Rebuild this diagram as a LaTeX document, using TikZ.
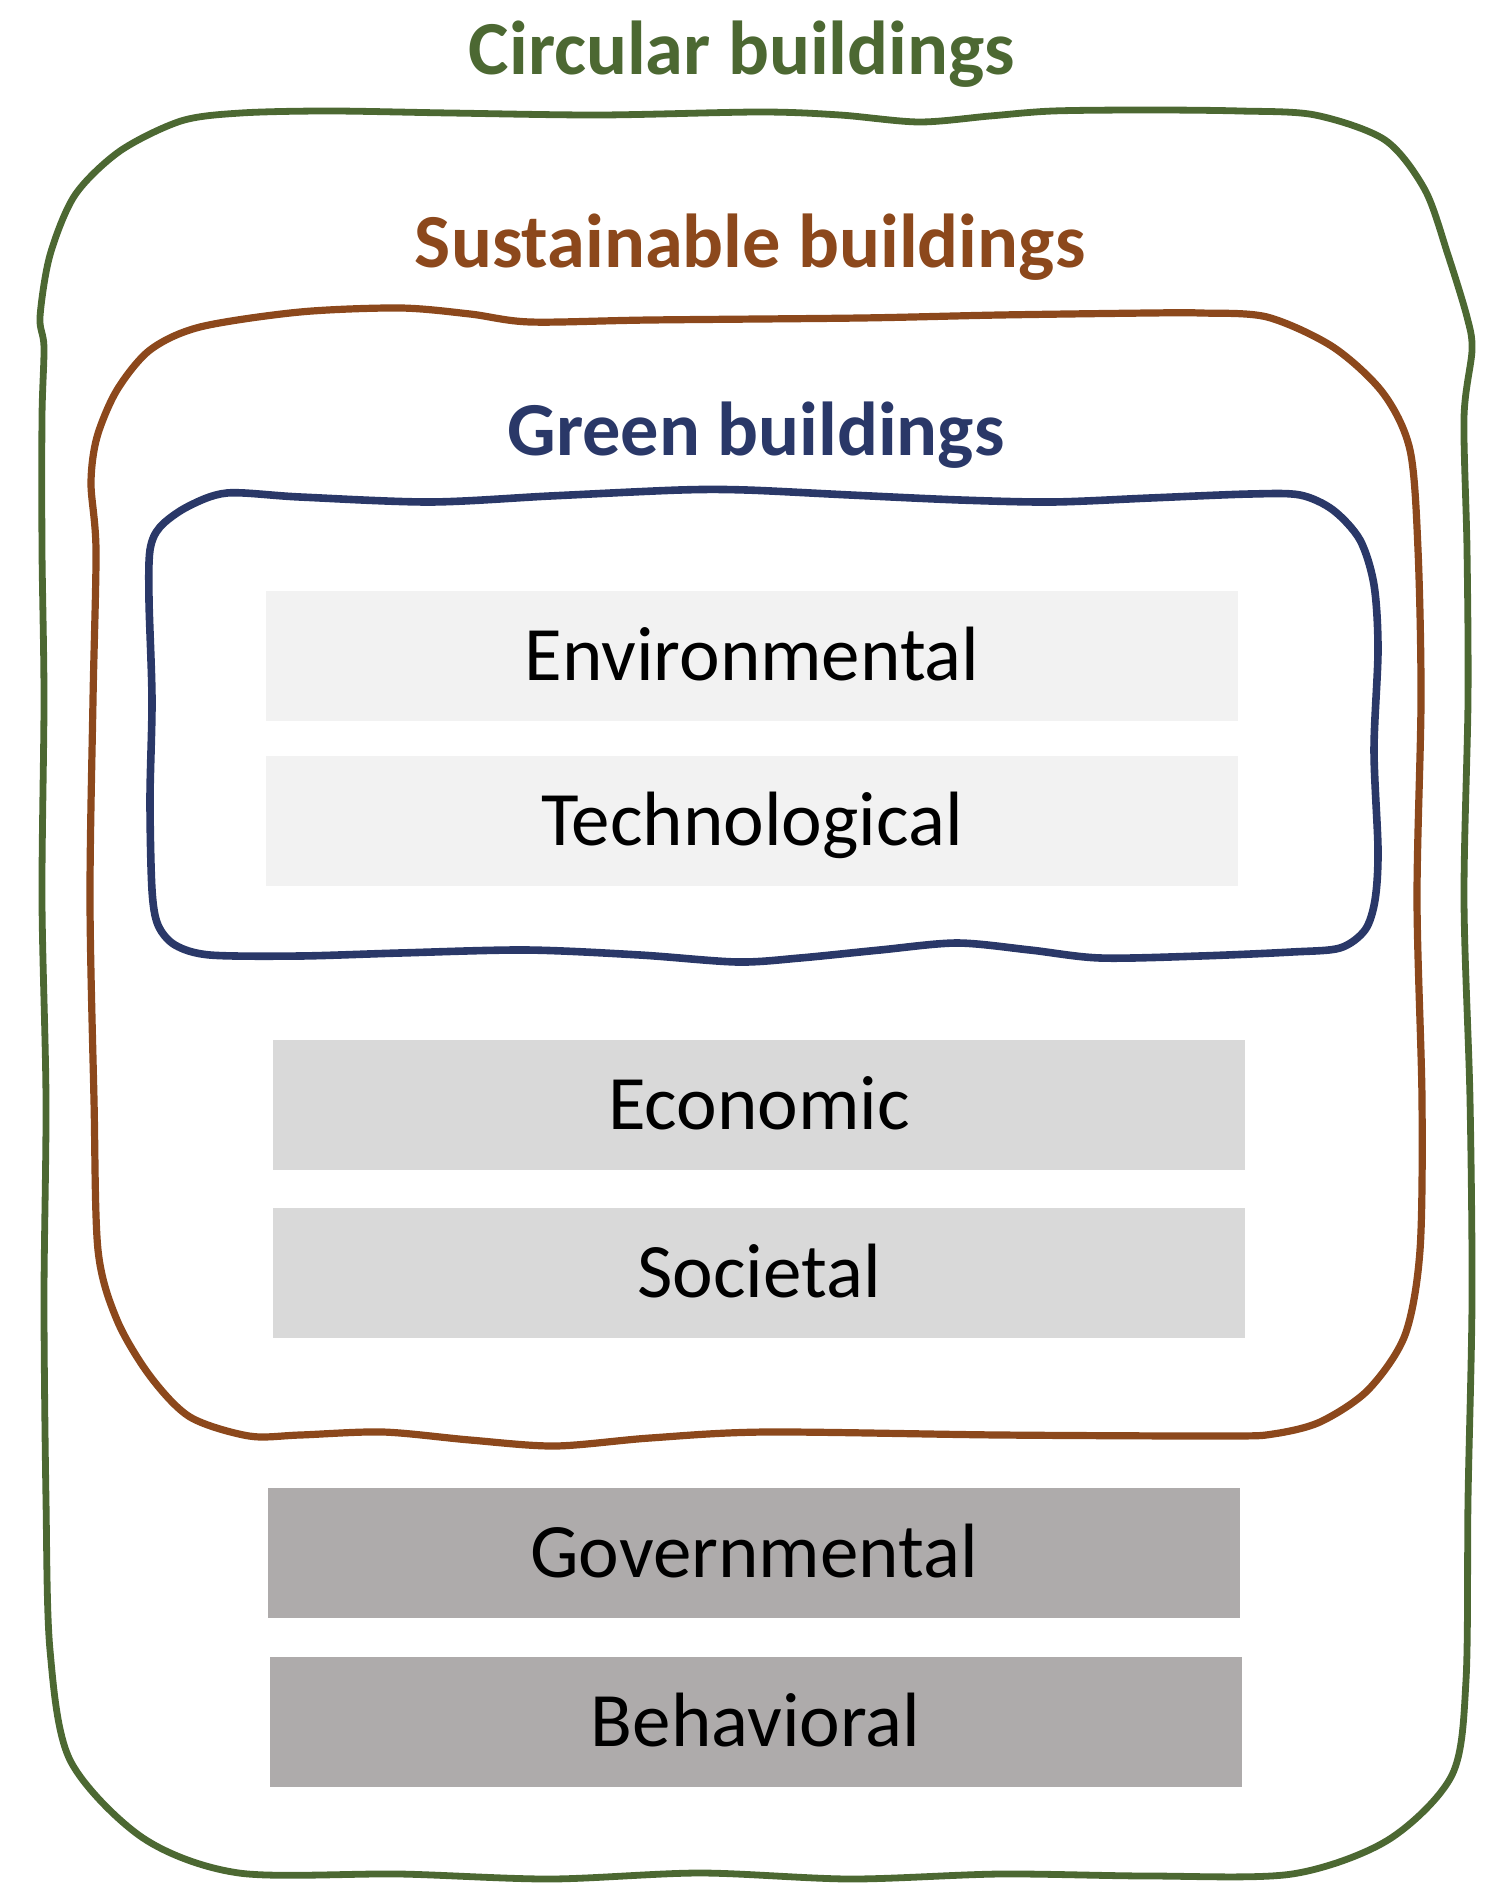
\documentclass[tikz,border=0pt]{standalone}
\usepackage{fontspec}
\setmainfont{Carlito}
\definecolor{cgreen}{RGB}{76,104,50}
\definecolor{cbrown}{RGB}{140,72,28}
\definecolor{cblue}{RGB}{42,56,104}
\definecolor{gA}{HTML}{F2F2F2}
\definecolor{gB}{HTML}{D9D9D9}
\definecolor{gC}{HTML}{AEABAB}
\tikzset{
  title/.style={font=\fontsize{38.2}{46}\selectfont\bfseries, anchor=base, inner sep=0pt},
  bar/.style={rectangle, inner sep=0pt, minimum width=486pt, minimum height=65pt,
    font=\fontsize{38.5}{46}\selectfont, text height=24.8pt, text depth=0pt, text=black},
  outline/.style={line width=#1, line join=round},
}
\begin{document}
\begin{tikzpicture}[x=0.5pt,y=-0.5pt]
\useasboundingbox (0,0) rectangle (1500,1899);
% outer green
\draw[cgreen, outline=3.4pt] plot[smooth cycle, tension=0.5] coordinates {
 (241,113) (330,111) (450,113) (600,115) (760,112) (840,115) (919,122) (990,116) (1053,111) (1150,110) (1240,111)
 (1315,115) (1385,140) (1425,190) (1448,255) (1467,317) (1472,350)
 (1464,417) (1467,550) (1468,700) (1464,900) (1470,1100) (1472,1300) (1468,1500) (1466,1680)
 (1452,1775) (1388,1840) (1292,1874)
 (1150,1876) (1000,1874) (850,1879) (700,1873) (550,1879) (400,1874) (239,1873)
 (143,1838) (70,1760) (50,1650)
 (46,1500) (44,1300) (46,1100) (42,900) (44,700) (42,550) (42,417) (44,347) (40,317)
 (50,255) (75,195) (120,151) (181,121)};
% brown
\draw[cbrown, outline=3.6pt] plot[smooth cycle, tension=0.5] coordinates {
 (300,312) (400,308) (470,314) (530,322) (650,320) (861,318) (1000,315) (1150,313) (1200,313) (1267,317)
 (1333,347) (1383,393) (1410,450) (1418,550)
 (1421,700) (1417,900) (1422,1100) (1420,1250)
 (1405,1335) (1368,1390) (1320,1422) (1273,1434)
 (1225,1436) (1000,1435) (766,1432) (650,1438) (555,1446) (470,1440) (383,1432) (300,1435) (249,1436)
 (190,1417) (150,1376) (117,1320) (98,1250)
 (94,1100) (90,900) (93,700) (96,550)
 (91,483) (97,437) (117,390) (150,350) (200,327)};
% blue
\draw[cblue, outline=3.8pt] plot[smooth cycle, tension=0.5] coordinates {
 (227,493) (300,497) (430,502) (550,496) (680,490) (746,490) (850,495) (960,500) (1053,502) (1150,498) (1250,494) (1300,495)
 (1333,510) (1360,540) (1374,585)
 (1378,650) (1374,750) (1378,850) (1375,900)
 (1365,930) (1340,948) (1292,952)
 (1200,956) (1100,958) (1030,950) (957,943) (880,950) (800,958) (737,962) (640,955) (526,950) (400,953) (300,956) (210,955)
 (175,945) (158,925) (152,890)
 (150,800) (152,700) (149,600) (150,550)
 (160,527) (187,507)};
% titles
\node[title, text=cgreen] (tcirc) at (742,75) {Circular buildings};
\node[title, text=cbrown] (tsust) at (750,268) {Sustainable buildings};
\node[title, text=cblue] (tgreen) at (756,455) {Green buildings};
% bars
\node[bar, fill=gA] (env) at (752,655.5) {Environmental};
\node[bar, fill=gA] (tech) at (752,820.5) {Technological};
\node[bar, fill=gB] (econ) at (759,1105) {Economic};
\node[bar, fill=gB] (soc) at (759,1272.5) {Societal};
\node[bar, fill=gC] (gov) at (754,1553) {Governmental};
\node[bar, fill=gC] (beh) at (755.5,1722) {Behavioral};
\end{tikzpicture}
\end{document}
